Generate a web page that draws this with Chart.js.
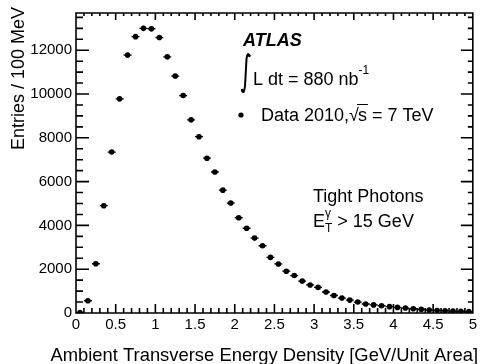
<!DOCTYPE html>
<html>
<head>
<meta charset="utf-8">
<script src="https://cdn.jsdelivr.net/npm/chart.js@4.4.1/dist/chart.umd.min.js"></script>
<style>
  html, body { margin: 0; padding: 0; background: #fff; }
  #wrap { width: 480px; height: 364px; }
</style>
</head>
<body>
<div id="wrap"><canvas id="chart" width="480" height="364"></canvas></div>
<script>
// Centres des bins (GeV / unité d'aire), largeur 0.1
const binCenters = [
  0.05, 0.15, 0.25, 0.35, 0.45, 0.55, 0.65, 0.75, 0.85, 0.95,
  1.05, 1.15, 1.25, 1.35, 1.45, 1.55, 1.65, 1.75, 1.85, 1.95,
  2.05, 2.15, 2.25, 2.35, 2.45, 2.55, 2.65, 2.75, 2.85, 2.95,
  3.05, 3.15, 3.25, 3.35, 3.45, 3.55, 3.65, 3.75, 3.85, 3.95,
  4.05, 4.15, 4.25, 4.35, 4.45, 4.55, 4.65, 4.75, 4.85, 4.95
];

// Entrées par 100 MeV
const entries = [
  20, 560, 2250, 4900, 7350, 9780, 11780, 12620, 13000, 12980,
  12580, 11700, 10820, 9930, 8820, 8050, 7070, 6440, 5610, 5020,
  4350, 3870, 3420, 3070, 2540, 2240, 1910, 1710, 1460, 1280,
  1170, 960, 800, 680, 590, 500, 410, 370, 330, 290,
  255, 225, 195, 165, 135, 115, 100, 85, 75, 65
];

const binWidth = 0.1;
const xTicks = [0, 0.5, 1, 1.5, 2, 2.5, 3, 3.5, 4, 4.5, 5];
const xMinorStep = 0.1;
const yTicks = [0, 2000, 4000, 6000, 8000, 10000, 12000];
const yMinorStep = 500;
const yMax = 13700;

const FONT = '"Liberation Sans", Arial, Helvetica, sans-serif';

// Dessine un texte composé de morceaux (normal / exposant / indice)
function drawParts(ctx, x, y, parts) {
  let cx = x;
  parts.forEach(p => {
    ctx.font = p.font;
    ctx.fillText(p.t, cx, y + (p.dy || 0));
    if (!p.noAdvance) cx += ctx.measureText(p.t).width;
  });
  return cx;
}

// Graduations internes sur les quatre côtés (style ROOT)
const ticksPlugin = {
  id: 'innerTicks',
  afterDatasetsDraw(chart) {
    const ctx = chart.ctx;
    const a = chart.chartArea;
    const xs = chart.scales.x, ys = chart.scales.y;
    ctx.save();
    ctx.strokeStyle = '#000';
    ctx.lineWidth = 1.6;
    ctx.beginPath();
    ctx.rect(a.left, a.top, a.right - a.left, a.bottom - a.top);
    const nx = Math.round((xs.max - xs.min) / xMinorStep);
    for (let k = 0; k <= nx; k++) {
      const px = xs.getPixelForValue(xs.min + k * xMinorStep);
      const len = (k % 5 === 0) ? 9 : 5;
      ctx.moveTo(px, a.bottom); ctx.lineTo(px, a.bottom - len);
      ctx.moveTo(px, a.top); ctx.lineTo(px, a.top + len - 2);
    }
    for (let v = 0; v <= yMax; v += yMinorStep) {
      const py = ys.getPixelForValue(v);
      const major = v % 2000 === 0;
      ctx.moveTo(a.left, py); ctx.lineTo(a.left + (major ? 13 : 7), py);
      ctx.moveTo(a.right, py); ctx.lineTo(a.right - (major ? 12 : 5), py);
    }
    ctx.stroke();
    ctx.restore();
  }
};

const atlasPlugin = {
  id: 'atlas',
  beforeDatasetsDraw(chart) {
    const ctx = chart.ctx;
    const xs = chart.scales.x, ys = chart.scales.y;
    ctx.save();
    ctx.strokeStyle = '#000';
    ctx.lineWidth = 1.3;
    binCenters.forEach((xv, i) => {
      const px = xs.getPixelForValue(xv);
      const py = ys.getPixelForValue(entries[i]);
      const x0 = xs.getPixelForValue(xv - binWidth / 2);
      const x1 = xs.getPixelForValue(xv + binWidth / 2);
      const err = Math.sqrt(entries[i]);
      ctx.beginPath();
      ctx.moveTo(x0, py); ctx.lineTo(x1, py);
      ctx.moveTo(px, ys.getPixelForValue(entries[i] + err));
      ctx.lineTo(px, ys.getPixelForValue(Math.max(0, entries[i] - err)));
      ctx.stroke();
    });
    ctx.restore();
  },
  afterDraw(chart) {
    const ctx = chart.ctx;
    ctx.save();
    ctx.fillStyle = '#000';
    ctx.textBaseline = 'alphabetic';

    // titre axe X
    ctx.font = '18.4px ' + FONT;
    ctx.textAlign = 'right';
    ctx.fillText('Ambient Transverse Energy Density [GeV/Unit Area]', 478, 361);

    // titre axe Y
    ctx.save();
    ctx.translate(24, 7);
    ctx.rotate(-Math.PI / 2);
    ctx.font = '18px ' + FONT;
    ctx.textAlign = 'right';
    ctx.fillText('Entries / 100 MeV', 0, 0);
    ctx.restore();

    ctx.textAlign = 'left';
    // ATLAS
    ctx.font = 'italic bold 18px ' + FONT;
    ctx.fillText('ATLAS', 243, 46);

    // intégrale
    ctx.strokeStyle = '#000';
    ctx.lineWidth = 2;
    ctx.lineCap = 'round';
    ctx.beginPath();
    ctx.moveTo(249.5, 55.5);
    ctx.quadraticCurveTo(247.5, 51.5, 246.5, 59);
    ctx.lineTo(245, 86);
    ctx.quadraticCurveTo(244, 95, 242, 90.5);
    ctx.stroke();
    ctx.beginPath();
    ctx.arc(249.3, 55.8, 1.4, 0, Math.PI * 2);
    ctx.arc(242.2, 90.2, 1.4, 0, Math.PI * 2);
    ctx.fill();

    const f18 = '18px ' + FONT, f12 = '12px ' + FONT;
    drawParts(ctx, 253, 85, [
      { t: 'L dt = 880 nb', font: f18 },
      { t: '-1', font: f12, dy: -11 }
    ]);

    // puce + Data 2010, sqrt(s)
    ctx.beginPath();
    ctx.arc(241, 115, 2.6, 0, Math.PI * 2);
    ctx.fill();
    const cx = drawParts(ctx, 261, 121, [{ t: 'Data 2010,', font: f18 }]);
    ctx.font = f18;
    const sw = ctx.measureText('√').width;
    ctx.fillText('√', cx, 121);
    const sx = cx + sw - 1;
    const s1 = drawParts(ctx, sx, 121, [{ t: 's', font: f18 }]);
    ctx.fillRect(sx - 1, 104, s1 - sx + 2, 1);
    drawParts(ctx, s1, 121, [{ t: ' = 7 TeV', font: f18 }]);

    // Tight Photons
    drawParts(ctx, 313, 202, [{ t: 'Tight Photons', font: f18 }]);
    const ex = drawParts(ctx, 313, 227, [{ t: 'E', font: f18 }]);
    drawParts(ctx, ex, 227, [{ t: 'γ', font: f12, dy: -10, noAdvance: true }]);
    const tx = drawParts(ctx, ex, 227, [{ t: 'T', font: f12, dy: 5 }]);
    drawParts(ctx, tx, 227, [{ t: ' > 15 GeV', font: f18 }]);

    ctx.restore();
  }
};

new Chart(document.getElementById('chart'), {
  type: 'scatter',
  data: {
    datasets: [{
      data: binCenters.map((x, i) => ({ x: x, y: entries[i] })),
      pointRadius: 2.8,
      pointHoverRadius: 2.8,
      pointBackgroundColor: '#000',
      pointBorderWidth: 0,
      showLine: false
    }]
  },
  options: {
    responsive: false,
    animation: false,
    devicePixelRatio: 1,
    layout: { padding: { top: 8, right: 6, left: 0, bottom: 0 } },
    plugins: { legend: { display: false }, tooltip: { enabled: false } },
    scales: {
      x: {
        type: 'linear',
        min: 0, max: 5,
        afterBuildTicks: s => { s.ticks = xTicks.map(v => ({ value: v })); },
        afterFit: s => { s.height = 51; },
        grid: { display: false, drawTicks: false },
        border: { display: false },
        ticks: {
          color: '#000', font: { family: FONT, size: 15 }, padding: 3,
          maxRotation: 0, autoSkip: false, callback: v => String(v)
        }
      },
      y: {
        type: 'linear',
        min: 0, max: yMax,
        afterBuildTicks: s => { s.ticks = yTicks.map(v => ({ value: v })); },
        afterFit: s => { s.width = 76; },
        grid: { display: false, drawTicks: false },
        border: { display: false },
        ticks: {
          color: '#000', font: { family: FONT, size: 15 }, padding: 4,
          autoSkip: false, callback: v => String(v)
        }
      }
    }
  },
  plugins: [ticksPlugin, atlasPlugin]
});
</script>
</body>
</html>
